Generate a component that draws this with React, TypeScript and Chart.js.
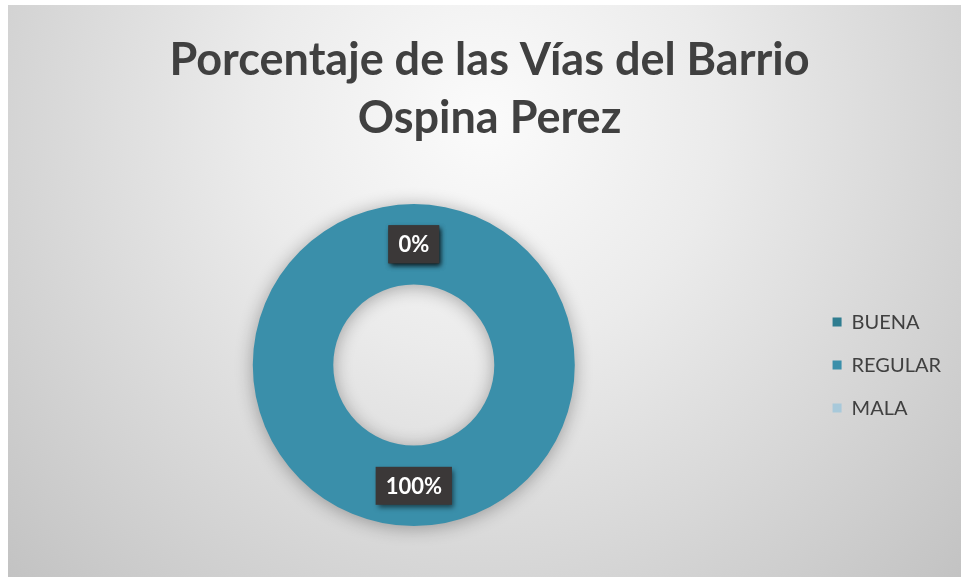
import React, { useEffect, useRef } from "react";
import { Chart, registerables } from "chart.js";
Chart.register(...registerables);

const categories = ["BUENA", "REGULAR", "MALA"];
const values = [0, 100, 0];
const percentLabels = ["0%", "100%", "0%"];
const sliceColors = ["#2f7d90", "#3a8faa", "#a8c9da"];
const titleLines = ["Porcentaje de las Vías del Barrio", "Ospina Perez"];

const bgPlugin = {
  id: "bgPlugin",
  beforeDraw(chart: any) {
    const { ctx, width, height } = chart;
    ctx.save();
    const g = ctx.createRadialGradient(width * 0.5, height * 0.2, 0, width * 0.5, height * 0.2, width * 0.7);
    g.addColorStop(0, "#fbfbfb");
    g.addColorStop(0.35, "#ebebeb");
    g.addColorStop(1, "#c2c2c2");
    ctx.fillStyle = g;
    ctx.fillRect(0, 0, width, height);
    ctx.restore();
  },
};

const layoutTweakPlugin = {
  id: "layoutTweak",
  afterLayout(chart: any) {
    const lg = chart.legend;
    const ca = chart.chartArea;
    if (lg && ca) {
      lg.top = ca.top;
      lg.bottom = ca.bottom;
      lg.height = ca.bottom - ca.top;
    }
    const tb = chart.titleBlock;
    if (tb) {
      tb.left += 5;
      tb.right += 5;
    }
  },
};

const labelPlugin = {
  id: "labelPlugin",
  beforeDatasetsDraw(chart: any) {
    const ctx = chart.ctx;
    ctx.save();
    ctx.shadowColor = "rgba(0,0,0,0.32)";
    ctx.shadowBlur = 18;
    ctx.shadowOffsetX = 0;
    ctx.shadowOffsetY = 2;
  },
  afterDatasetsDraw(chart: any) {
    const ctx = chart.ctx;
    ctx.restore();
    const meta = chart.getDatasetMeta(0);
    const order = [2, 0, 1];
    order.forEach((i) => {
      const el = meta.data[i];
      if (!el) return;
      const pos = el.tooltipPosition();
      const text = percentLabels[i];
      ctx.save();
      ctx.font = "bold 22px Lato";
      const tw = ctx.measureText(text).width;
      const w = tw + 20;
      const h = 38;
      ctx.shadowColor = "rgba(0,0,0,0.55)";
      ctx.shadowBlur = 5;
      ctx.shadowOffsetX = 2;
      ctx.shadowOffsetY = 3;
      ctx.fillStyle = "#3b3838";
      ctx.fillRect(pos.x - w / 2, pos.y - h / 2, w, h);
      ctx.shadowColor = "transparent";
      ctx.fillStyle = "#ffffff";
      ctx.textAlign = "center";
      ctx.textBaseline = "middle";
      ctx.fillText(text, pos.x, pos.y + 1);
      ctx.restore();
    });
  },
};

export default function App() {
  const ref = useRef<HTMLCanvasElement>(null);
  useEffect(() => {
    if (!ref.current) return;
    const chart = new Chart(ref.current, {
      type: "doughnut",
      data: {
        labels: categories,
        datasets: [
          {
            data: values,
            backgroundColor: sliceColors,
            borderWidth: 0,
            radius: 161,
          } as any,
        ],
      },
      options: {
        animation: false,
        responsive: true,
        maintainAspectRatio: false,
        cutout: "50%",
        layout: { padding: { left: 10, right: 10, bottom: 40, top: 0 } },
        plugins: {
          title: {
            display: true,
            text: titleLines,
            color: "#404040",
            font: { family: "Lato", weight: "bold", size: 45, lineHeight: 1.29 },
            padding: { top: 26, bottom: 46 },
          },
          legend: {
            position: "right",
            labels: {
              color: "#404040",
              font: { family: "Lato", size: 20 },
              boxWidth: 9,
              boxHeight: 9,
              padding: 23,
            },
          },
          tooltip: { enabled: false },
        },
      } as any,
      plugins: [bgPlugin, layoutTweakPlugin, labelPlugin],
    });
    return () => chart.destroy();
  }, []);
  return (
    <div style={{ position: "absolute", left: 8, top: 5, width: 953, height: 572 }}>
      <canvas ref={ref} />
    </div>
  );
}
